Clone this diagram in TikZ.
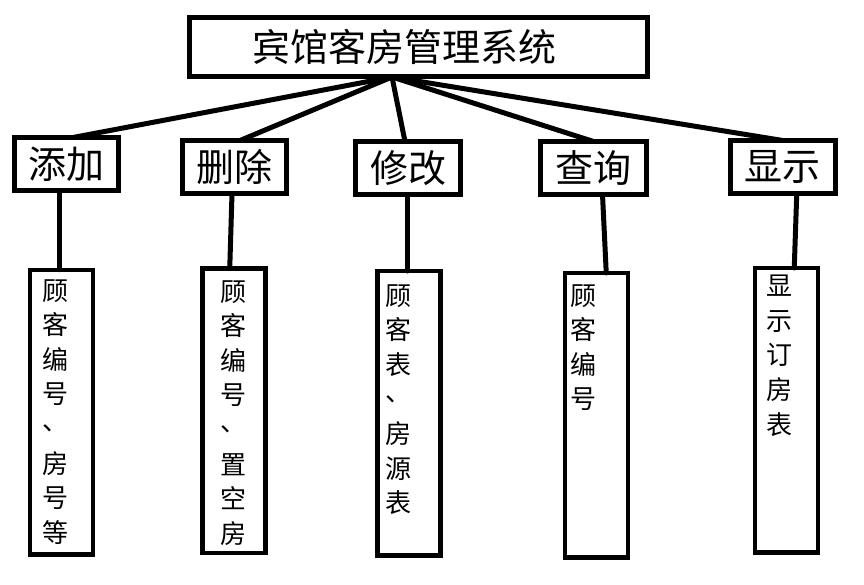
\documentclass[tikz,border=0pt]{standalone}
\usepackage{fontspec}
\IfFontExistsTF{FandolSong-Regular.otf}{\newfontfamily\cjk{FandolSong-Regular.otf}}{\newfontfamily\cjk{Noto Sans CJK SC}}
\begin{document}
\begin{tikzpicture}[x=1pt,y=-1pt,
  box/.style={draw=black, line width=5pt, inner sep=0pt, outer sep=0pt},
  topbox/.style={box, minimum width=458pt, minimum height=59pt},
  funcbox/.style={box, minimum height=53pt, font=\cjk\fontsize{38}{40}\selectfont},
  leafbox/.style={box, line width=4.5pt, minimum width=63pt, minimum height=284.5pt},
  titletext/.style={inner sep=0pt, font=\cjk\fontsize{38}{40}\selectfont},
  vtext/.style={inner sep=0pt, anchor=north, align=center, font=\cjk\fontsize{26}{34.6}\selectfont},
  conn/.style={draw=black, line width=5pt, line cap=round}]
\useasboundingbox (0,0) rectangle (864,585);
% top
\node[topbox] (top) at (418,47.5) {};
\node[titletext] (ttl) at (404,47) {宾馆客房管理系统};
% level 2
\node[funcbox, minimum width=104pt] (a1) at (66,164) {添加};
\node[funcbox, minimum width=104pt] (a2) at (234.5,167) {删除};
\node[funcbox, minimum width=105pt] (a3) at (408,168) {修改};
\node[funcbox, minimum width=106pt] (a4) at (593.5,168) {查询};
\node[funcbox, minimum width=105.5pt] (a5) at (782.75,167) {显示};
% level 3
\node[leafbox] (b1) at (61.5,412) {};
\node[leafbox] (b2) at (233.75,410.5) {};
\node[leafbox] (b3) at (408.75,413.25) {};
\node[leafbox] (b4) at (596.25,415.25) {};
\node[leafbox] (b5) at (786.25,410.25) {};
\node[vtext] (t1) at (55.5,279) {顾\\客\\编\\号\\\raisebox{0.3em}{、}\\房\\号\\等};
\node[vtext] (t2) at (233.5,280) {顾\\客\\编\\号\\\raisebox{0.3em}{、}\\置\\空\\房};
\node[vtext] (t3) at (398.5,284) {顾\\客\\表\\\raisebox{0.3em}{、}\\房\\源\\表};
\node[vtext] (t4) at (583.5,284) {顾\\客\\编\\号};
\node[vtext] (t5) at (779.5,275) {显\\示\\订\\房\\表};
% connectors
\coordinate (hub) at ([xshift=-26pt]top.south);
\draw[conn] (hub) -- ([xshift=7pt]a1.north);
\draw[conn] (hub) -- ([xshift=5.5pt]a2.north);
\draw[conn] (hub) -- ([xshift=-3pt]a3.north);
\draw[conn] (hub) -- (a4.north);
\draw[conn] (hub) -- (a5.north);
\draw[conn] ([xshift=-7pt]a1.south) -- ([xshift=-2.5pt]b1.north);
\draw[conn] ([xshift=-2.5pt]a2.south) -- ([xshift=-4pt]b2.north);
\draw[conn] ([xshift=-1pt]a3.south) -- ([xshift=-1.75pt]b3.north);
\draw[conn] ([xshift=9pt]a4.south) -- ([xshift=10pt]b4.north);
\draw[conn] ([xshift=14pt]a5.south) -- ([xshift=8pt]b5.north);
\end{tikzpicture}
\end{document}
